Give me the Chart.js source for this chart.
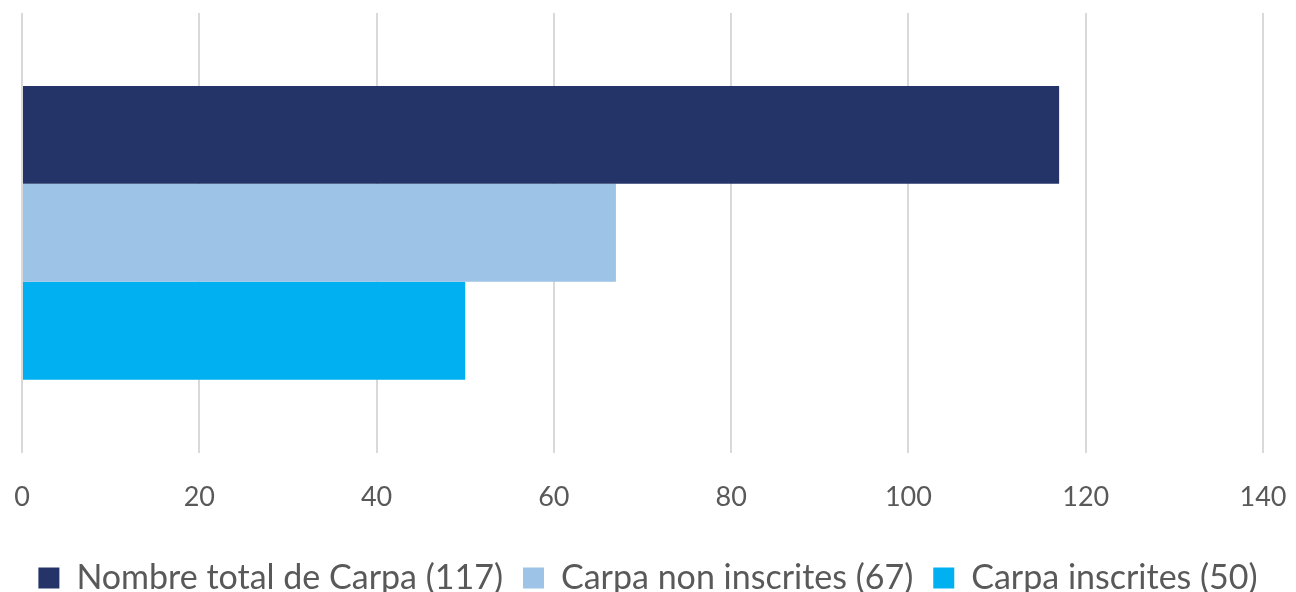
<!DOCTYPE html>
<html lang="fr">
<head>
  <meta charset="UTF-8" />
  <title>Carpa</title>
  <script src="https://cdn.jsdelivr.net/npm/chart.js"></script>
  <style>
    body { margin: 0; background: #fff; }
    #wrap { width: 1296px; height: 592px; }
  </style>
</head>
<body>
  <div id="wrap"><canvas id="chart"></canvas></div>
  <script>
    const categories = [''];
    const seriesNames = ['Nombre total de Carpa (117)', 'Carpa non inscrites (67)', 'Carpa inscrites (50)'];
    const seriesValues = [[117], [67], [50]];
    const seriesColors = ['#243469', '#9DC3E6', '#00B0F0'];

    new Chart(document.getElementById('chart'), {
      type: 'bar',
      data: {
        labels: categories,
        datasets: seriesNames.map((name, i) => ({
          label: name,
          data: seriesValues[i],
          backgroundColor: seriesColors[i],
          borderWidth: 0,
          categoryPercentage: 0.668,
          barPercentage: 1
        }))
      },
      options: {
        indexAxis: 'y',
        responsive: true,
        maintainAspectRatio: false,
        animation: false,
        layout: { padding: { left: 0, right: 0, top: 13, bottom: -13 } },
        scales: {
          x: {
            min: 0, max: 140,
            ticks: { stepSize: 20, color: '#595959', font: { family: 'Lato', size: 27 }, padding: 28 },
            grid: { color: '#D9D9D9', lineWidth: 2, drawTicks: false },
            border: { display: false },
            // plot area edges as in the original: 0 at x=22, 140 at x=1263
            afterFit(axis) { axis.paddingLeft = 22; axis.paddingRight = 33; }
          },
          y: { display: false }
        },
        plugins: {
          legend: {
            position: 'bottom',
            labels: { color: '#595959', font: { family: 'Lato', size: 34 }, boxWidth: 21, boxHeight: 21, padding: 20 }
          },
          tooltip: { enabled: false }
        }
      }
    });
  </script>
</body>
</html>
